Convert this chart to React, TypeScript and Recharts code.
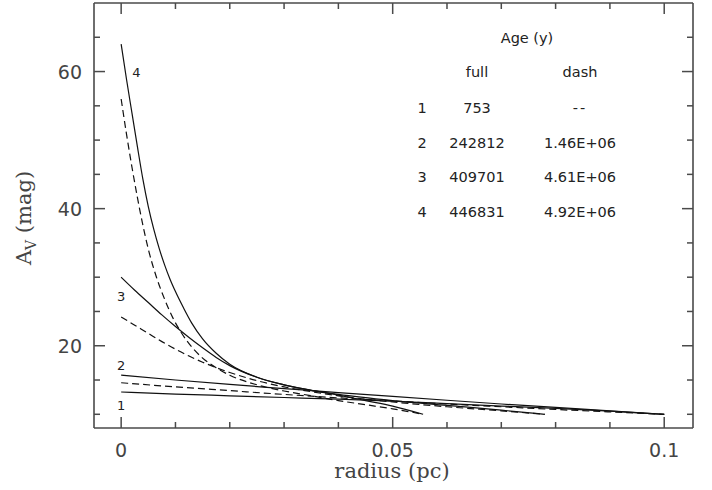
import { LineChart, Line, XAxis, YAxis, ReferenceDot } from 'recharts'

document.body.style.margin = '0'

// radius (pc) and A_V (mag), one pair of arrays per curve
const R_4_FULL = [0, 0.001, 0.002, 0.003, 0.004, 0.005, 0.006, 0.007, 0.008, 0.009, 0.01, 0.0115, 0.013, 0.015, 0.0175, 0.02, 0.025, 0.03, 0.035, 0.04, 0.045, 0.05, 0.0556]
const AV_4_FULL = [64, 58.8, 53.9, 49.0, 44.3, 40.3, 37.0, 34.2, 31.8, 29.7, 27.9, 25.5, 23.3, 21.0, 18.9, 17.3, 15.4, 14.3, 13.5, 12.8, 12.0, 11.2, 10.0]

const R_4_DASH = [0, 0.001, 0.002, 0.003, 0.004, 0.005, 0.0065, 0.008, 0.0095, 0.011, 0.0125, 0.015, 0.0175, 0.02, 0.025, 0.03, 0.035, 0.04, 0.045, 0.05, 0.0556]
const AV_4_DASH = [56, 50.8, 46.0, 41.6, 37.6, 34.1, 30.0, 26.8, 24.1, 22.0, 20.3, 18.2, 16.8, 15.7, 14.3, 13.4, 12.7, 12.0, 11.4, 10.8, 10.0]

const R_3 = [0, 0.0025, 0.005, 0.0075, 0.01, 0.0125, 0.015, 0.0175, 0.02, 0.025, 0.03, 0.035, 0.04, 0.05, 0.06, 0.07, 0.078]
const AV_3_FULL = [30, 28.1, 26.3, 24.5, 22.8, 21.2, 19.7, 18.3, 17.1, 15.4, 14.3, 13.5, 12.9, 12.0, 11.3, 10.6, 10.0]
const AV_3_DASH = [24.2, 23.0, 21.8, 20.6, 19.5, 18.5, 17.6, 16.8, 16.1, 14.9, 14.0, 13.3, 12.7, 11.8, 11.1, 10.5, 10.0]

const R_LONG = [0, 0.01, 0.02, 0.03, 0.04, 0.05, 0.06, 0.07, 0.08, 0.09, 0.1]
const AV_2_FULL = [15.7, 15.0, 14.35, 13.75, 13.15, 12.6, 12.05, 11.5, 11.0, 10.5, 10.0]
const AV_2_DASH = [14.6, 14.0, 13.45, 12.9, 12.4, 11.95, 11.5, 11.1, 10.7, 10.35, 10.0]
const AV_1_FULL = [13.25, 12.95, 12.7, 12.45, 12.2, 11.9, 11.55, 11.2, 10.85, 10.45, 10.0]

// curve numbers drawn next to the curves
const CURVE_LABELS = ['1', '2', '3', '4']
const CURVE_LABEL_R = [0, 0, 0, 0.0028]
const CURVE_LABEL_AV = [11.3, 17.2, 27.2, 60]

// ages table
const AGE_ROWS = ['1', '2', '3', '4']
const AGE_FULL = ['753', '242812', '409701', '446831']
const AGE_DASH = ['--', '1.46E+06', '4.61E+06', '4.92E+06']

const X_TICKS = [0, 0.01, 0.02, 0.03, 0.04, 0.05, 0.06, 0.07, 0.08, 0.09, 0.1]
const X_LABELS: Record<string, string> = { '0': '0', '0.05': '0.05', '0.1': '0.1' }
const Y_TICKS = [10, 15, 20, 25, 30, 35, 40, 45, 50, 55, 60, 65]
const Y_LABELS: Record<string, string> = { '20': '20', '40': '40', '60': '60' }

const toPoints = (r: number[], av: number[]) => r.map((x, i) => ({ r: x, av: av[i] }))

const FRAME = '#4a4a4a'
const TEXT = '#444'
const SANS = '"DejaVu Sans", sans-serif'
const SERIF = '"DejaVu Serif", serif'

const curves = [
  { key: '4f', data: toPoints(R_4_FULL, AV_4_FULL), dash: undefined },
  { key: '4d', data: toPoints(R_4_DASH, AV_4_DASH), dash: '7 4' },
  { key: '3f', data: toPoints(R_3, AV_3_FULL), dash: undefined },
  { key: '3d', data: toPoints(R_3, AV_3_DASH), dash: '7 4' },
  { key: '2f', data: toPoints(R_LONG, AV_2_FULL), dash: undefined },
  { key: '2d', data: toPoints(R_LONG, AV_2_DASH), dash: '7 4' },
  { key: '1f', data: toPoints(R_LONG, AV_1_FULL), dash: undefined },
]

// inward ticks; labels only on the majors
function xTick(side: 'bottom' | 'top') {
  return (props: any) => {
    const { x, y, payload } = props
    const label = X_LABELS[String(payload.value)]
    const len = label ? 11 : 6
    const dir = side === 'bottom' ? -1 : 1
    return (
      <g>
        <line x1={x} x2={x} y1={y} y2={y + dir * len} stroke={FRAME} strokeWidth={1.5} />
        {side === 'bottom' && label && (
          <text x={x} y={y + 29} textAnchor="middle" fontFamily={SANS} fontSize={19} fill={TEXT}>
            {label}
          </text>
        )}
      </g>
    )
  }
}

function yTick(side: 'left' | 'right') {
  return (props: any) => {
    const { x, y, payload } = props
    const label = Y_LABELS[String(payload.value)]
    const len = label ? 11 : 6
    const dir = side === 'left' ? 1 : -1
    return (
      <g>
        <line x1={x} x2={x + dir * len} y1={y} y2={y} stroke={FRAME} strokeWidth={1.5} />
        {side === 'left' && label && (
          <text x={x - 12} y={y + 7} textAnchor="end" fontFamily={SANS} fontSize={19} fill={TEXT}>
            {label}
          </text>
        )}
      </g>
    )
  }
}

const axisLine = { stroke: FRAME, strokeWidth: 1.6 }

export default function App() {
  return (
    <div style={{ position: 'relative', width: 712, height: 490, background: '#fff' }}>
      <LineChart width={712} height={490} margin={{ top: 2, right: 18, bottom: 0, left: 0 }}>
        <XAxis
          xAxisId="b"
          type="number"
          dataKey="r"
          domain={[-0.005, 0.1053]}
          allowDataOverflow
          ticks={X_TICKS}
          interval={0}
          height={62}
          tickSize={0}
          tickMargin={0}
          tickLine={false}
          axisLine={axisLine}
          tick={xTick('bottom')}
        />
        <XAxis
          xAxisId="t"
          orientation="top"
          type="number"
          dataKey="r"
          domain={[-0.005, 0.1053]}
          allowDataOverflow
          ticks={X_TICKS}
          interval={0}
          height={1}
          tickSize={0}
          tickMargin={0}
          tickLine={false}
          axisLine={axisLine}
          tick={xTick('top')}
        />
        <YAxis
          yAxisId="l"
          type="number"
          domain={[8, 70]}
          allowDataOverflow
          ticks={Y_TICKS}
          interval={0}
          width={94}
          tickSize={0}
          tickMargin={0}
          tickLine={false}
          axisLine={axisLine}
          tick={yTick('left')}
        />
        <YAxis
          yAxisId="r"
          orientation="right"
          type="number"
          domain={[8, 70]}
          allowDataOverflow
          ticks={Y_TICKS}
          interval={0}
          width={1}
          tickSize={0}
          tickMargin={0}
          tickLine={false}
          axisLine={axisLine}
          tick={yTick('right')}
        />
        {curves.map((c) => (
          <Line
            key={c.key}
            xAxisId="b"
            yAxisId="l"
            data={c.data}
            dataKey="av"
            type="monotone"
            stroke="#111"
            strokeWidth={1.2}
            strokeDasharray={c.dash}
            dot={false}
            isAnimationActive={false}
          />
        ))}
        {CURVE_LABELS.map((t, i) => (
          <ReferenceDot
            key={t}
            xAxisId="b"
            yAxisId="l"
            x={CURVE_LABEL_R[i]}
            y={CURVE_LABEL_AV[i]}
            r={0}
            shape={(p: any) => (
              <text x={p.cx} y={p.cy + 5} textAnchor="middle" fontFamily={SANS} fontSize={13} fill="#222">
                {t}
              </text>
            )}
          />
        ))}
      </LineChart>

      <svg width={712} height={490} style={{ position: 'absolute', left: 0, top: 0, pointerEvents: 'none' }}>
        <text x={392} y={478} textAnchor="middle" fontFamily={SERIF} fontSize={21} fill={TEXT}>
          radius (pc)
        </text>
        <text transform="translate(31 218) rotate(-90)" textAnchor="middle" fontFamily={SERIF} fontSize={21} fill={TEXT}>
          A<tspan fontSize={14} dy={5}>V</tspan>
          <tspan dy={-5}> (mag)</tspan>
        </text>

        <g fontFamily={SANS} fontSize={14.5} fill="#222" textAnchor="middle">
          <text x={527} y={43}>Age (y)</text>
          <text x={477} y={77}>full</text>
          <text x={580} y={77}>dash</text>
          {AGE_ROWS.map((row, i) => (
            <g key={row}>
              <text x={422} y={113 + i * 34.5}>{row}</text>
              <text x={477} y={113 + i * 34.5}>{AGE_FULL[i]}</text>
              <text x={580} y={113 + i * 34.5} letterSpacing={i === 0 ? 2 : 0}>{AGE_DASH[i]}</text>
            </g>
          ))}
        </g>
      </svg>
    </div>
  )
}
